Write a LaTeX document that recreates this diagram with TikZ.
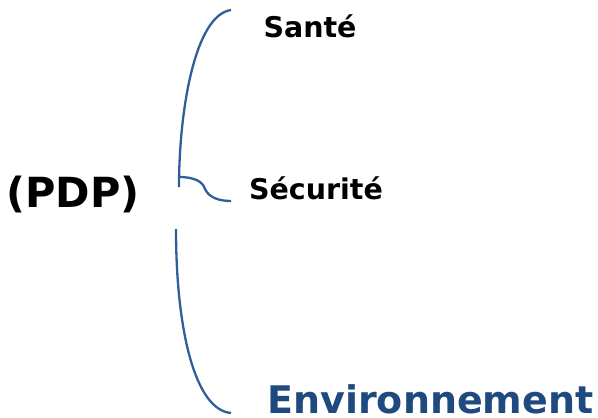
\documentclass[tikz,border=0pt]{standalone}
\usepackage{fontspec}
\setmainfont{DejaVu Sans}
\definecolor{bracecol}{HTML}{2E5F9A}
\definecolor{envcol}{HTML}{1F4A80}
\begin{document}
\begin{tikzpicture}[x=1pt, y=-1pt, brace line/.style={draw=bracecol, line width=2.3pt}, item/.style={font=\bfseries, inner sep=0pt}]
\useasboundingbox (0,0) rectangle (598,418);
\node[item, font=\fontsize{41.5}{46}\selectfont\bfseries] (pdp) at (73,194) {(PDP)};
\node[item, font=\fontsize{28.5}{32}\selectfont\bfseries] (sante) at (310,26) {Santé};
\node[item, font=\fontsize{28.5}{32}\selectfont\bfseries] (securite) at (316,188) {Sécurité};
\node[item, text=envcol, text depth=0pt, anchor=base, font=\fontsize{38}{43}\selectfont\bfseries] (env) at (430.5,413) {Environnement};
\coordinate (b1) at (231,10);
\coordinate (b2) at (179,187);
\coordinate (h1) at (179,177);
\coordinate (h2) at (231,201);
\coordinate (b3) at (176,229);
\coordinate (b4) at (231,413);
\draw[brace line] (b1) .. controls (195,15) and (179,110) .. (b2);
\draw[brace line] (h1) .. controls (195,177) and (203,182) .. (205,189) .. controls (209,198) and (220,201) .. (h2);
\draw[brace line] (b3) .. controls (176,330) and (195,410) .. (b4);
\end{tikzpicture}
\end{document}
